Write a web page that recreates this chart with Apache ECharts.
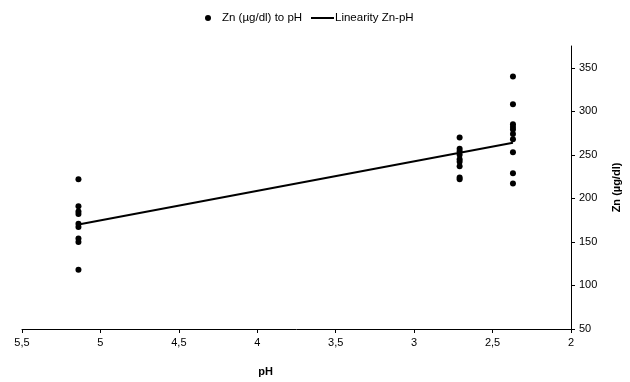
<!DOCTYPE html>
<html>
<head>
<meta charset="utf-8">
<script src="https://cdn.jsdelivr.net/npm/echarts@6/dist/echarts.min.js"></script>
<style>html,body{margin:0;padding:0;background:#fff}#c{width:630px;height:382px}</style>
</head>
<body>
<div id="c"></div>
<script>
// pH groups
var phLow = 5.14, phMid = 2.71, phHigh = 2.37;
var znLow  = [222, 191, 185, 182, 171, 167, 154, 150, 118];
var znMid  = [270, 257, 254, 250, 245, 242, 237, 224, 222];
var znHigh = [340, 308, 285, 282, 279, 274, 268, 253, 229, 217];
// regression line endpoints (pH, Zn)
var lineX = [5.14, 2.37];
var lineY = [170, 264];
var xTicks = [2, 2.5, 3, 3.5, 4, 4.5, 5, 5.5];
var yTicks = [50, 100, 150, 200, 250, 300, 350];

var scatterData = [];
znLow.forEach(function(v){ scatterData.push([phLow, v]); });
znMid.forEach(function(v){ scatterData.push([phMid, v]); });
znHigh.forEach(function(v){ scatterData.push([phHigh, v]); });
var lineData = lineX.map(function(x, i){ return [x, lineY[i]]; });

var font = 'Liberation Sans, Arial, sans-serif';
var chart = echarts.init(document.getElementById('c'), null, {renderer: 'canvas'});
chart.setOption({
  animation: false,
  backgroundColor: '#fff',
  textStyle: {fontFamily: font},
  legend: [
    {data: [{name: 'Zn (µg/dl) to pH', icon: 'circle'}], left: 200, top: 7,
     itemWidth: 6, itemHeight: 6,
     textStyle: {fontSize: 11.5, color: '#000', fontFamily: font, padding: [0,0,0,6]}},
    {data: [{name: 'Linearity Zn-pH', icon: 'rect'}], left: 306, top: 7,
     itemWidth: 23, itemHeight: 2,
     textStyle: {fontSize: 11.5, color: '#000', fontFamily: font, padding: [0,0,0,-4]}}
  ],
  grid: {left: 22, right: 52, top: 46, bottom: 45, containLabel: false},
  xAxis: {
    type: 'value', inverse: true, min: 2, max: 5.5, interval: 0.5,
    name: 'pH', nameLocation: 'middle', nameGap: 37,
    nameTextStyle: {fontWeight: 'bold', fontSize: 11, color: '#000', fontFamily: font, padding: [0, 62, 0, 0]},
    axisLine: {onZero: false, lineStyle: {color: '#000', width: 1}},
    axisTick: {show: true, length: 4, lineStyle: {color: '#000'}},
    axisLabel: {color: '#000', fontSize: 11, margin: 8, fontFamily: font,
      formatter: function(v){ return String(v).replace('.', ','); }},
    splitLine: {show: false}
  },
  yAxis: {
    type: 'value', position: 'right', min: 50, max: 375, interval: 50,
    name: 'Zn (µg/dl)', nameLocation: 'middle', nameGap: 40, nameRotate: 90,
    nameTextStyle: {fontWeight: 'bold', fontSize: 11, color: '#000', fontFamily: font},
    axisLine: {show: true, onZero: false, lineStyle: {color: '#000', width: 1}},
    axisTick: {show: true, length: 4, lineStyle: {color: '#000'}},
    axisLabel: {color: '#000', fontSize: 11, margin: 8, showMaxLabel: false, fontFamily: font,
      formatter: function(v){ return yTicks.indexOf(v) >= 0 ? String(v) : ''; }},
    splitLine: {show: false}
  },
  series: [
    {name: 'Zn (µg/dl) to pH', type: 'scatter', data: scatterData,
     symbol: 'circle', symbolSize: 6, itemStyle: {color: '#000', opacity: 1}, z: 3},
    {name: 'Linearity Zn-pH', type: 'line', data: lineData, showSymbol: false, symbol: 'none',
     lineStyle: {color: '#000', width: 2}, itemStyle: {color: '#000'}, z: 2}
  ]
});
</script>
</body>
</html>
